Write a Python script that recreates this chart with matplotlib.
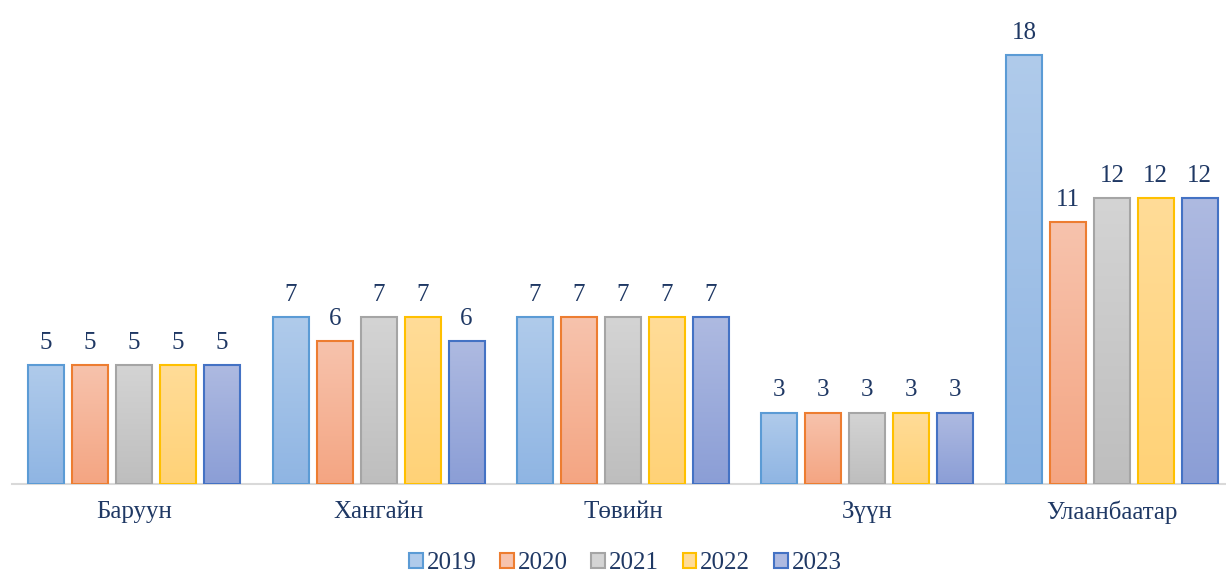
import matplotlib.pyplot as plt
import numpy as np
from matplotlib.colors import LinearSegmentedColormap
from matplotlib.patches import Patch

# Regions and yearly counts
regions = ['Баруун', 'Хангайн', 'Төвийн', 'Зүүн', 'Улаанбаатар']
years = ['2019', '2020', '2021', '2022', '2023']
counts = {
    '2019': [5, 7, 7, 3, 18],
    '2020': [5, 6, 7, 3, 11],
    '2021': [5, 7, 7, 3, 12],
    '2022': [5, 7, 7, 3, 12],
    '2023': [5, 6, 7, 3, 12],
}

# (top colour, bottom colour, edge colour) for each year
styles = {
    '2019': ('#b0cbeb', '#8fb5e3', '#5b9bd5'),
    '2020': ('#f7c3ad', '#f4a582', '#ed7d31'),
    '2021': ('#d4d4d4', '#bebebe', '#a5a5a5'),
    '2022': ('#ffdc98', '#ffd277', '#ffc000'),
    '2023': ('#aebae1', '#8b9ed6', '#4472c4'),
}
text_color = '#1f3864'

plt.rcParams['font.family'] = ['Liberation Serif', 'DejaVu Serif']

fig = plt.figure(figsize=(12.26, 5.78), dpi=100)
ax = fig.add_axes([0.0098, 0.1626, 0.9902, 0.8247])

x = np.arange(len(regions))
pitch = 0.18
width = 0.147

for i, yr in enumerate(years):
    top, bottom, edge = styles[yr]
    cmap = LinearSegmentedColormap.from_list('g' + yr, [bottom, top])
    bars = ax.bar(x + (i - 2) * pitch, counts[yr], width, facecolor='none',
                  edgecolor=edge, linewidth=1.5, zorder=3)
    grad = np.linspace(0, 1, 256).reshape(-1, 1)
    for b in bars:
        bx, by = b.get_xy()
        ax.imshow(grad, extent=[bx, bx + b.get_width(), by, by + b.get_height()],
                  aspect='auto', cmap=cmap, origin='lower', zorder=2,
                  interpolation='bilinear')
    for b, v in zip(bars, counts[yr]):
        ax.annotate(str(v), (b.get_x() + b.get_width() / 2, v),
                    xytext=(0, 8), textcoords='offset points',
                    ha='center', va='bottom', fontsize=18, color=text_color)

ax.set_xlim(-0.5, 4.467)
ax.set_ylim(0, 20)
ax.set_xticks(x)
ax.set_xticklabels(regions, fontsize=18, color=text_color)
ax.tick_params(axis='x', length=0, pad=12)
ax.set_yticks([])
for s in ['top', 'left', 'right']:
    ax.spines[s].set_visible(False)
ax.spines['bottom'].set_color('#d9d9d9')
ax.spines['bottom'].set_linewidth(1.5)

handles = [Patch(facecolor=styles[yr][0], edgecolor=styles[yr][2], linewidth=1.5)
           for yr in years]
leg = fig.legend(handles, years, loc='center', bbox_to_anchor=(0.51, 0.026),
                 ncol=5, frameon=False, fontsize=18, handlelength=0.55,
                 handleheight=0.55, handletextpad=0.15, columnspacing=0.95,
                 borderpad=0)
for t in leg.get_texts():
    t.set_color(text_color)

fig.savefig('out.png', dpi=100)
